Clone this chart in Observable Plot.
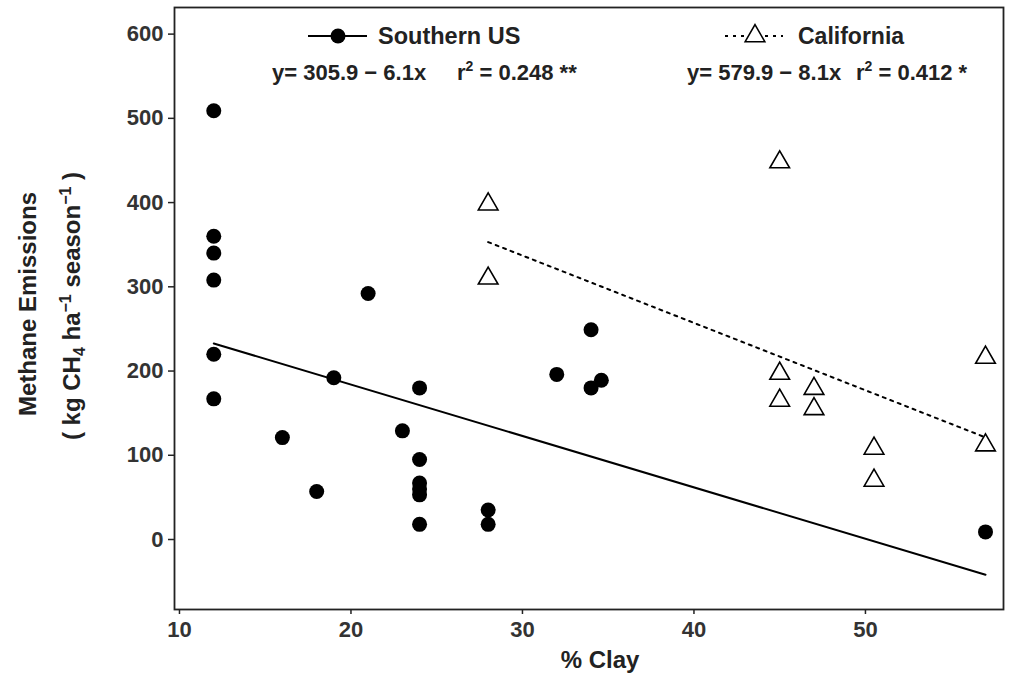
<!DOCTYPE html>
<html><head><meta charset="utf-8">
<script src="https://cdn.jsdelivr.net/npm/d3@7"></script>
<script src="https://cdn.jsdelivr.net/npm/@observablehq/plot@0.6"></script>
<style>
body{margin:0;background:#fff;}
#chart{position:relative;width:1011px;height:675px;}
</style></head><body><div id="chart"></div>
<script>
// Southern US observations (% clay, CH4 kg/ha/season)
const southClay = [12, 12, 12, 12, 12, 12, 16, 18, 19, 21, 23, 24, 24, 24, 24, 24, 24, 28, 28, 32, 34, 34, 34.6, 57];
const southCH4  = [509, 360, 340, 308, 220, 167, 121, 57, 192, 292, 129, 180, 95, 67, 60, 53, 18, 35, 18, 196, 249, 180, 189, 9];
// California observations
const caliClay = [28, 28, 45, 45, 45, 47, 47, 50.5, 50.5, 57, 57];
const caliCH4  = [398, 310, 448, 197, 165, 179, 155, 108, 70, 216, 112];
// Fitted regression line end points
const southFitClay = [12, 57];
const southFitCH4  = [232.7, -41.8];
const caliFitClay  = [28, 57];
const caliFitCH4   = [353.1, 121.2];
// Ticks
const xTicks = [10, 20, 30, 40, 50];
const yTicks = [0, 100, 200, 300, 400, 500, 600];
// Legend / annotation texts
const seriesNames = ["Southern US", "California"];
const eqTexts = ["y= 305.9 \u2212 6.1x", "y= 579.9 \u2212 8.1x"];
const r2Texts = ["= 0.248 **", "= 0.412 *"];

const south = southClay.map((x, i) => ({clay: x, ch4: southCH4[i]}));
const cali = caliClay.map((x, i) => ({clay: x, ch4: caliCH4[i]}));
const southFit = southFitClay.map((x, i) => ({clay: x, ch4: southFitCH4[i]}));
const caliFit = caliFitClay.map((x, i) => ({clay: x, ch4: caliFitCH4[i]}));

const FONT = '"Liberation Sans",Arial,sans-serif';

const plot = Plot.plot({
  width: 1011, height: 675,
  marginLeft: 174, marginRight: 8, marginTop: 7, marginBottom: 66,
  x: {domain: [9.71, 58.05]},
  y: {domain: [-83.1, 631.6]},
  style: {fontFamily: FONT, background: "white", color: "#333"},
  marks: [
    Plot.frame({stroke: "#222", strokeWidth: 1.8}),
    Plot.axisX({ticks: xTicks, tickSize: 5, tickPadding: 7, label: null, fontSize: 22, fontWeight: "bold", stroke: "#222", strokeWidth: 1.5}),
    Plot.axisY({ticks: yTicks, tickSize: 6, tickPadding: 5, label: null, fontSize: 22, fontWeight: "bold", stroke: "#222", strokeWidth: 1.5}),
    Plot.line(southFit, {x: "clay", y: "ch4", stroke: "black", strokeWidth: 2}),
    Plot.line(caliFit, {x: "clay", y: "ch4", stroke: "black", strokeWidth: 2, strokeDasharray: "3,5"}),
    Plot.dot(south, {x: "clay", y: "ch4", r: 7.5, fill: "black"}),
    Plot.dot(cali, {x: "clay", y: "ch4", symbol: "triangle", r: 7.3, fill: "white", stroke: "black", strokeWidth: 1.6})
  ]
});
document.getElementById("chart").appendChild(plot);

const svg = d3.select(plot);
const ann = svg.append("g").attr("text-anchor", "start").attr("font-family", FONT).attr("font-weight", "bold").attr("fill", "#222");
// Axis titles
ann.append("text").attr("x", 600).attr("y", 668).attr("text-anchor", "middle")
  .attr("font-size", 24).text("% Clay");
ann.append("text").attr("transform", "translate(36,304) rotate(-90)").attr("text-anchor", "middle")
  .attr("font-size", 24).text("Methane Emissions");
const t2 = ann.append("text").attr("transform", "translate(80,306) rotate(-90)").attr("text-anchor", "middle")
  .attr("font-size", 24);
t2.append("tspan").text("( kg CH");
t2.append("tspan").attr("font-size", 16).attr("dy", 5).text("4");
t2.append("tspan").attr("dy", -5).text(" ha");
t2.append("tspan").attr("font-size", 16).attr("dy", -9).text("\u22121");
t2.append("tspan").attr("dy", 9).text(" season");
t2.append("tspan").attr("font-size", 16).attr("dy", -9).text("\u22121");
t2.append("tspan").attr("dy", 9).text(" )");

// Legend
ann.append("line").attr("x1", 308).attr("x2", 367).attr("y1", 36).attr("y2", 36).attr("stroke", "black").attr("stroke-width", 2);
ann.append("circle").attr("cx", 338).attr("cy", 36).attr("r", 7.5).attr("fill", "black");
ann.append("text").attr("x", 378).attr("y", 44).attr("font-size", 23.5).text(seriesNames[0]);
ann.append("line").attr("x1", 725).attr("x2", 783).attr("y1", 36).attr("y2", 36).attr("stroke", "black").attr("stroke-width", 2).attr("stroke-dasharray", "3,5");
ann.append("path").attr("d", d3.symbol(d3.symbolTriangle, Math.PI * 7.3 * 7.3)()).attr("transform", "translate(755,36)")
  .attr("fill", "white").attr("stroke", "black").attr("stroke-width", 1.6);
ann.append("text").attr("x", 798).attr("y", 44).attr("font-size", 23).text(seriesNames[1]);

function eq(x, y, s) {
  ann.append("text").attr("x", x).attr("y", y).attr("font-size", 22).text(s);
}
function r2(x, y, s) {
  const t = ann.append("text").attr("x", x).attr("y", y).attr("font-size", 22);
  t.append("tspan").text("r");
  t.append("tspan").attr("font-size", 14).attr("dy", -9).text("2");
  t.append("tspan").attr("dy", 9).text(" " + s);
}
eq(272, 80, eqTexts[0]);
r2(457, 80, r2Texts[0]);
eq(687, 80, eqTexts[1]);
r2(856, 80, r2Texts[1]);
</script></body></html>
